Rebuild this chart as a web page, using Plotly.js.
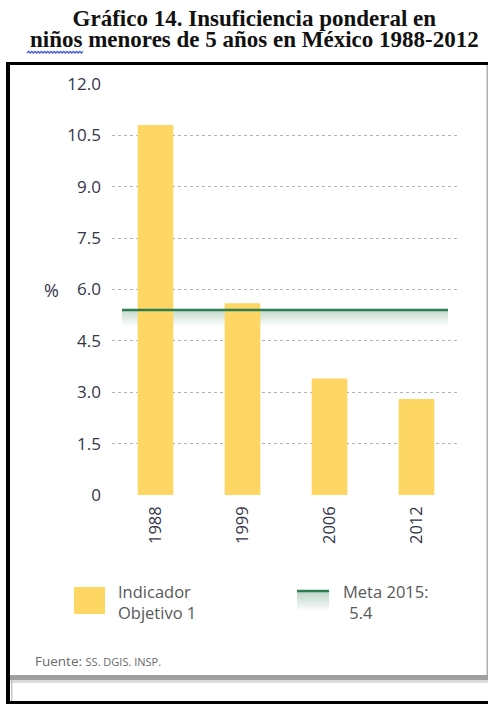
<!DOCTYPE html>
<html>
<head>
<meta charset="utf-8">
<script src="https://cdn.plot.ly/plotly-3.0.1.min.js"></script>
<style>
html,body{margin:0;padding:0;background:#fff;}
#chart{width:488px;height:704px;}
</style>
</head>
<body>
<div id="chart"></div>
<script>
// ---- data ----
var years = ["1988", "1999", "2006", "2012"];
var indicador = [10.8, 5.6, 3.4, 2.8];
var meta2015 = 5.4;
var yTicks = [0, 1.5, 3.0, 4.5, 6.0, 7.5, 9.0, 10.5, 12.0];
var yTickText = ["0", "1.5", "3.0", "4.5", "6.0", "7.5", "9.0", "10.5", "12.0"];
var titleLines = ["Gráfico 14. Insuficiencia ponderal en", "niños menores de 5 años en México 1988-2012"];
var legendBar = ["Indicador", "Objetivo 1"];
var legendMeta = ["Meta 2015:", " 5.4"];
var sourceText = "Fuente: <span style=\"font-size:11px\">SS. DGIS. INSP.</span>";

// ---- layout helpers (pixel -> paper) ----
var W = 488, H = 704;
var L = 112, R = 460, T = 84, B = 495;
function X(px){ return (px - L) / (R - L); }
function Y(py){ return (B - py) / (B - T); }

var barColor = "#FDD663";
var green = "#2E7D4F";
var txt = "#35354a";
var legTxt = "#595959";

var shapes = [];
function rectPx(x0, y0, x1, y1, color){
  shapes.push({type:"rect", xref:"paper", yref:"paper", x0:X(x0), x1:X(x1), y0:Y(y1), y1:Y(y0),
    fillcolor:color, line:{width:0}, layer:"above"});
}
// frame
rectPx(6, 62, 488, 65, "#000");
rectPx(6, 62, 10, 704, "#000");
rectPx(486.5, 65, 488, 675, "#b0b0b0");
rectPx(10, 675, 488, 680, "#a0a0a0");
rectPx(10, 680, 488, 683, "#dcdcdc");
rectPx(11, 680, 12.5, 701, "#c8c8c8");
rectPx(6, 701, 488, 704, "#000");

// meta line + gradient in plot
var metaX0 = X(122), metaX1 = X(448);
var gSteps = 10, gDepth = 0.45;
for (var i = 0; i < gSteps; i++) {
  shapes.push({type:"rect", xref:"paper", yref:"y", x0:metaX0, x1:metaX1,
    y0: meta2015 - (i+1)*gDepth/gSteps, y1: meta2015 - i*gDepth/gSteps,
    fillcolor:"rgba(46,125,79," + (0.28*(1 - i/gSteps)).toFixed(3) + ")", line:{width:0}, layer:"below"});
}
shapes.push({type:"line", xref:"paper", yref:"y", x0:metaX0, x1:metaX1, y0:meta2015, y1:meta2015,
  line:{color:green, width:2.5}, layer:"above"});

// legend markers
rectPx(74, 587, 105, 614, barColor);
for (var j = 0; j < 8; j++) {
  rectPx(297, 592 + j*2.3, 329, 592 + (j+1)*2.3, "rgba(46,125,79," + (0.3*(1 - j/8)).toFixed(3) + ")");
}
shapes.push({type:"line", xref:"paper", yref:"paper", x0:X(297), x1:X(329), y0:Y(591), y1:Y(591),
  line:{color:green, width:2.5}});

// spell-check wavy underline
var wp = "M " + X(27) + "," + Y(53);
for (var k = 0, xx = 27; xx < 82; k++) {
  xx += 1.6;
  wp += " L " + X(xx) + "," + Y(k % 2 === 0 ? 51.3 : 53);
}
shapes.push({type:"path", xref:"paper", yref:"paper", path:wp, line:{color:"#3a55e0", width:1.2}});

var titleHtml = titleLines.map(function(t){
  return "<span style=\"font-size:23px\"><b>" + t + "</b></span>";
}).join("<br>");

var annotations = [
  {text:titleHtml, x:X(254), y:Y(29), xref:"paper", yref:"paper", showarrow:false, align:"center",
   xanchor:"center", yanchor:"middle", font:{family:"Liberation Serif", size:16.5, color:"#111"}},
  {text:"%", x:X(61), y:Y(290), xref:"paper", yref:"paper", showarrow:false, xanchor:"right", yanchor:"middle",
   font:{family:"Open Sans", size:18, color:txt}},
  {text:legendBar[0], x:X(116), y:Y(591), xref:"paper", yref:"paper", showarrow:false, xanchor:"left", yanchor:"middle",
   font:{family:"Open Sans", size:16.5, color:legTxt}},
  {text:legendBar[1], x:X(116), y:Y(612), xref:"paper", yref:"paper", showarrow:false, xanchor:"left", yanchor:"middle",
   font:{family:"Open Sans", size:16.5, color:legTxt}},
  {text:legendMeta[0], x:X(341), y:Y(591), xref:"paper", yref:"paper", showarrow:false, xanchor:"left", yanchor:"middle",
   font:{family:"Open Sans", size:16.5, color:legTxt}},
  {text:legendMeta[1], x:X(343), y:Y(612), xref:"paper", yref:"paper", showarrow:false, xanchor:"left", yanchor:"middle",
   font:{family:"Open Sans", size:16.5, color:legTxt}},
  {text:sourceText, x:X(33), y:Y(661), xref:"paper", yref:"paper", showarrow:false, xanchor:"left", yanchor:"middle",
   font:{family:"Open Sans", size:13.5, color:"#6a6a6a"}}
];

var data = [{
  type:"bar", x:years, y:indicador, marker:{color:barColor, line:{width:0}},
  hoverinfo:"x+y", showlegend:false
}];

var layout = {
  width:W, height:H,
  margin:{l:L, r:W-R, t:T, b:H-B, pad:0},
  paper_bgcolor:"#fff", plot_bgcolor:"#fff",
  bargap:0.59,
  showlegend:false,
  xaxis:{type:"category", showgrid:false, zeroline:false, showline:false, ticks:"",
    tickangle:-90, ticklabelstandoff:7, tickfont:{family:"Open Sans", size:16.5, color:txt}},
  yaxis:{range:[0,12], tickvals:yTicks, ticktext:yTickText, showgrid:true, gridcolor:"#b4b4b4",
    griddash:"dot", gridwidth:1, zeroline:false, showline:false, ticks:"", ticklabelstandoff:10,
    tickfont:{family:"Open Sans", size:17, color:txt}},
  shapes:shapes,
  annotations:annotations
};

Plotly.newPlot("chart", data, layout, {displayModeBar:false, staticPlot:true});
</script>
</body>
</html>
